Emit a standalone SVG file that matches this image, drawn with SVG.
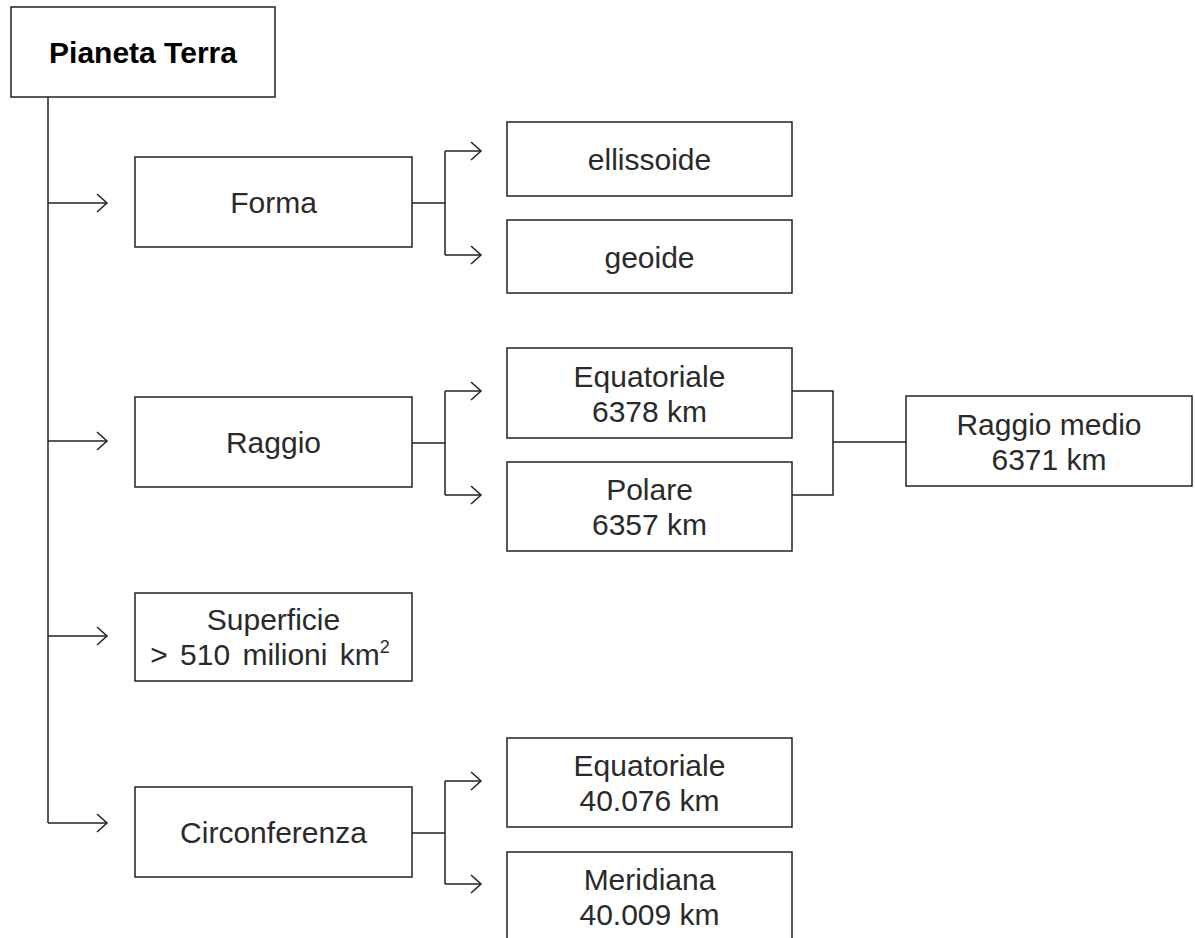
<svg xmlns="http://www.w3.org/2000/svg" width="1195" height="938" viewBox="0 0 1195 938">
<style>
.box{fill:#fff;stroke:#222;stroke-width:1.5}
.t{font-family:"Liberation Sans",Arial,sans-serif;font-size:30px;fill:#2a2a2a;text-anchor:middle}
.b{font-weight:bold;font-size:30px;fill:#000}
.c{fill:none;stroke:#222;stroke-width:1.5}
</style>
<defs>
<marker id="arr" markerUnits="userSpaceOnUse" markerWidth="14" markerHeight="22" refX="11" refY="10" orient="auto">
<path d="M1,1 L11,10 L1,19" fill="none" stroke="#222" stroke-width="1.5"/>
</marker>
</defs>
<g id="connectors">
<path class="c" d="M48,97 V823"/>
<path class="c" d="M48,203 H107" marker-end="url(#arr)"/>
<path class="c" d="M48,441 H107" marker-end="url(#arr)"/>
<path class="c" d="M48,636 H107" marker-end="url(#arr)"/>
<path class="c" d="M48,823 H107" marker-end="url(#arr)"/>
<path class="c" d="M412,203 H445 M445,151 V255"/>
<path class="c" d="M445,151 H481" marker-end="url(#arr)"/>
<path class="c" d="M445,255 H481" marker-end="url(#arr)"/>
<path class="c" d="M412,443 H445 M445,391 V495"/>
<path class="c" d="M445,391 H481" marker-end="url(#arr)"/>
<path class="c" d="M445,495 H481" marker-end="url(#arr)"/>
<path class="c" d="M792,391 H833 V495 H792 M833,442 H906"/>
<path class="c" d="M412,833 H445 M445,781 V884"/>
<path class="c" d="M445,781 H481" marker-end="url(#arr)"/>
<path class="c" d="M445,884 H481" marker-end="url(#arr)"/>
</g>
<g id="pianeta">
<rect class="box" x="11" y="7" width="264" height="90"/>
<text class="t b" x="143" y="63">Pianeta Terra</text>
</g>
<g id="forma">
<rect class="box" x="135" y="157" width="277" height="90"/>
<text class="t" x="273.5" y="213">Forma</text>
</g>
<g id="ellissoide">
<rect class="box" x="507" y="122" width="285" height="74"/>
<text class="t" x="649.5" y="170">ellissoide</text>
</g>
<g id="geoide">
<rect class="box" x="507" y="220" width="285" height="73"/>
<text class="t" x="649.5" y="268">geoide</text>
</g>
<g id="raggio">
<rect class="box" x="135" y="397" width="277" height="90"/>
<text class="t" x="273.5" y="453">Raggio</text>
</g>
<g id="equatoriale-raggio">
<rect class="box" x="507" y="348" width="285" height="90"/>
<text class="t" x="649.5" y="386.5">Equatoriale</text>
<text class="t" x="649.5" y="421.5">6378 km</text>
</g>
<g id="polare">
<rect class="box" x="507" y="462" width="285" height="89"/>
<text class="t" x="649.5" y="500">Polare</text>
<text class="t" x="649.5" y="535">6357 km</text>
</g>
<g id="raggio-medio">
<rect class="box" x="906" y="396" width="286" height="90"/>
<text class="t" x="1049" y="434.5">Raggio medio</text>
<text class="t" x="1049" y="469.5">6371 km</text>
</g>
<g id="superficie">
<rect class="box" x="135" y="593" width="277" height="88"/>
<text class="t" x="273.5" y="630">Superficie</text>
<text class="t" x="270" y="665" word-spacing="4">&gt; 510 milioni km<tspan font-size="18" dy="-12">2</tspan></text>
</g>
<g id="circonferenza">
<rect class="box" x="135" y="787" width="277" height="90"/>
<text class="t" x="273.5" y="843">Circonferenza</text>
</g>
<g id="equatoriale-circ">
<rect class="box" x="507" y="738" width="285" height="89"/>
<text class="t" x="649.5" y="776">Equatoriale</text>
<text class="t" x="649.5" y="811">40.076 km</text>
</g>
<g id="meridiana">
<rect class="box" x="507" y="852" width="285" height="100"/>
<text class="t" x="649.5" y="890">Meridiana</text>
<text class="t" x="649.5" y="925">40.009 km</text>
</g>
</svg>
